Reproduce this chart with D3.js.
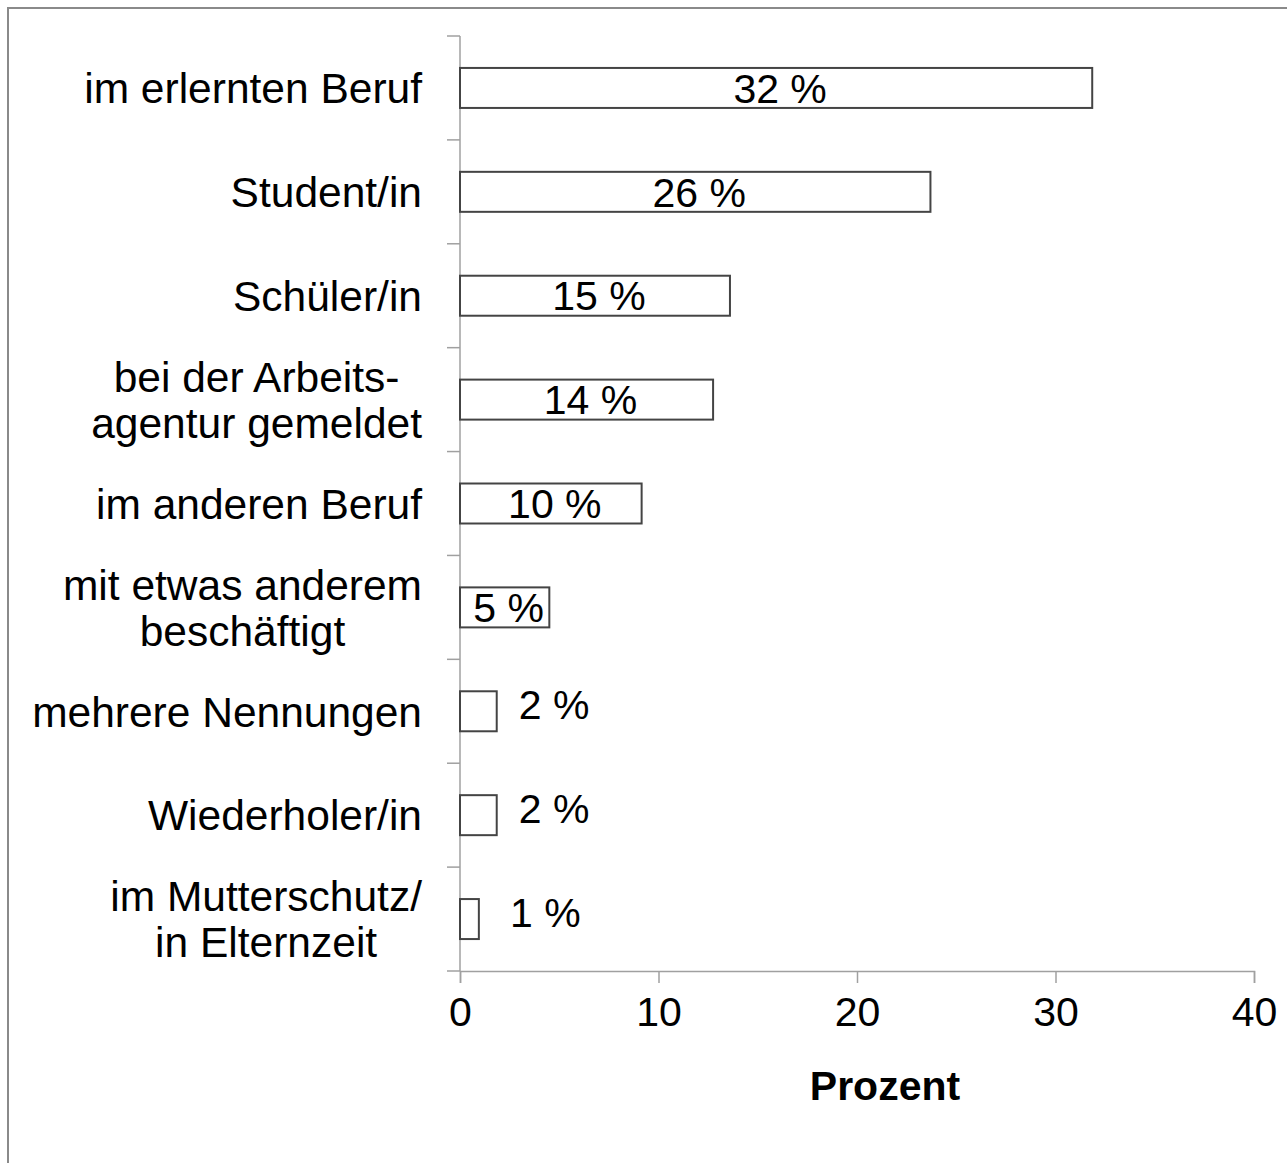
<!DOCTYPE html>
<html>
<head>
<meta charset="utf-8">
<script src="https://cdn.jsdelivr.net/npm/d3@7"></script>
<style>
  body { margin: 0; background: #fff; }
  text { font-family: "Liberation Sans", Arial, sans-serif; fill: #000; }
</style>
</head>
<body>
<script>
// data
const categories = [
  "im erlernten Beruf",
  "Student/in",
  "Schüler/in",
  "bei der Arbeits-|agentur gemeldet",
  "im anderen Beruf",
  "mit etwas anderem|beschäftigt",
  "mehrere Nennungen",
  "Wiederholer/in",
  "im Mutterschutz/|in Elternzeit"
]
const values = [31.85, 23.7, 13.6, 12.75, 9.15, 4.5, 1.85, 1.85, 0.95]
const valueLabels = ["32 %", "26 %", "15 %", "14 %", "10 %", "5 %", "2 %", "2 %", "1 %"]
const xTicks = [0, 10, 20, 30, 40]

const width = 1287
const height = 1163
const fontSize = 41

const svg = d3.select("body")
    .append("svg")
    .attr("width", width)
    .attr("height", height)

// frame
svg.append("rect")
    .attr("x", 8)
    .attr("y", 8)
    .attr("width", width + 20)
    .attr("height", height + 20)
    .attr("fill", "none")
    .attr("stroke", "#8a8a8a")
    .attr("stroke-width", 2)

const x = d3.scaleLinear()
    .domain([0, 40])
    .range([460, 1254])

const pad = 0.615
const y = d3.scaleBand()
    .domain(categories)
    .range([36, 971])
    .paddingInner(pad)
    .paddingOuter(pad / 2)

const step = y.step()
const axisColor = "#a0a0a0"

// y axis line and ticks at band boundaries
svg.append("line")
    .attr("x1", x(0)).attr("x2", x(0))
    .attr("y1", 36).attr("y2", 971)
    .attr("stroke", axisColor).attr("stroke-width", 1.5)

const bounds = categories.map(c => y(c) - step * pad / 2)
bounds.push(971)
svg.selectAll(".ytick")
    .data(bounds)
    .enter().append("line")
    .attr("class", "ytick")
    .attr("x1", x(0) - 13).attr("x2", x(0))
    .attr("y1", d => d).attr("y2", d => d)
    .attr("stroke", axisColor).attr("stroke-width", 1.5)

// x axis
const xAxis = svg.append("g")
    .attr("transform", "translate(0,971)")
    .call(d3.axisBottom(x).tickValues(xTicks).tickSize(12).tickPadding(14))
xAxis.select(".domain").attr("stroke", axisColor).attr("stroke-width", 1.5)
xAxis.selectAll(".tick line").attr("stroke", axisColor).attr("stroke-width", 1.5)
xAxis.selectAll(".tick text")
    .attr("font-size", fontSize)
    .attr("font-family", "Liberation Sans, Arial, sans-serif")
    .attr("fill", "#000")

svg.append("text")
    .attr("x", 885)
    .attr("y", 1100)
    .attr("text-anchor", "middle")
    .attr("font-size", fontSize)
    .attr("font-weight", "bold")
    .text("Prozent")

// bars
const rows = categories.map((c, i) => ({ cat: c, value: values[i], label: valueLabels[i] }))

svg.selectAll(".bar")
    .data(rows)
    .enter().append("rect")
    .attr("class", "bar")
    .attr("x", x(0))
    .attr("y", d => y(d.cat))
    .attr("width", d => x(d.value) - x(0))
    .attr("height", y.bandwidth())
    .attr("fill", "#fff")
    .attr("stroke", "#444")
    .attr("stroke-width", 2)

// value labels
svg.selectAll(".vlabel")
    .data(rows)
    .enter().append("text")
    .attr("class", "vlabel")
    .attr("font-size", fontSize)
    .attr("text-anchor", d => d.value >= 3 ? "middle" : "start")
    .attr("x", d => d.value >= 3 ? (x(0) + x(d.value)) / 2 + 4 : Math.max(x(d.value) + 22, 510))
    .attr("y", d => y(d.cat) + y.bandwidth() / 2 - (d.value >= 3 ? 0 : 7))
    .attr("dy", "0.36em")
    .text(d => d.label)

// category labels, multi-line centered within right-aligned block
const labelRight = 422
const lineH = 46
svg.selectAll(".clabel")
    .data(rows)
    .enter().append("text")
    .attr("class", "clabel")
    .attr("font-size", 42.5)
    .attr("text-anchor", "middle")
    .each(function (d) {
        const lines = d.cat.split("|")
        const t = d3.select(this)
        const cy = y(d.cat) + y.bandwidth() / 2
        lines.forEach((ln, i) => {
            t.append("tspan")
                .attr("y", cy + (i - (lines.length - 1) / 2) * lineH)
                .attr("dy", "0.36em")
                .text(ln)
        })
        let maxW = 0
        t.selectAll("tspan").each(function () {
            maxW = Math.max(maxW, this.getComputedTextLength())
        })
        t.selectAll("tspan").attr("x", labelRight - maxW / 2)
    })
</script>
</body>
</html>
